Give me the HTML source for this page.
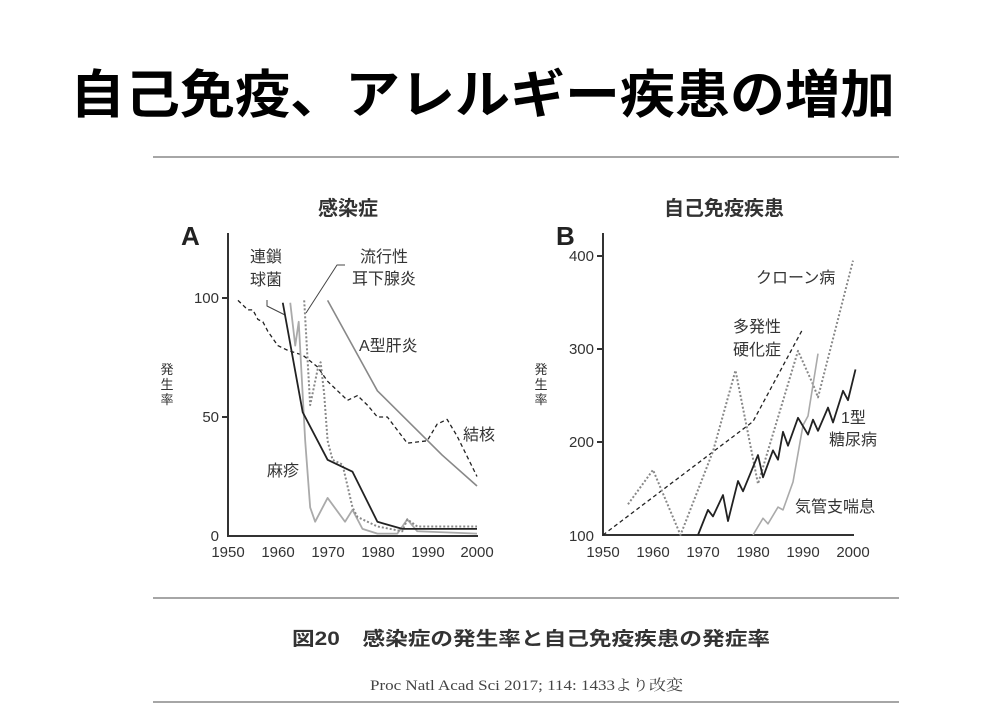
<!DOCTYPE html>
<html><head><meta charset="utf-8"><style>
body{margin:0;background:#fff;width:1000px;height:721px;overflow:hidden}
svg{display:block}
text{font-family:"Liberation Sans","Noto Sans CJK JP",sans-serif;fill:#333}
.l{fill:none;vector-effect:non-scaling-stroke;stroke-linejoin:round}
</style></head><body>
<svg width="1000" height="721" viewBox="0 0 1000 721">
<text x="70" y="113" font-size="52" font-weight="bold" style="fill:#000" textLength="825" lengthAdjust="spacingAndGlyphs">自己免疫、アレルギー疾患の増加</text>
<line x1="153" y1="157" x2="899" y2="157" stroke="#888" stroke-width="1.5"/>
<line x1="153" y1="598" x2="899" y2="598" stroke="#888" stroke-width="1.5"/>
<line x1="153" y1="702" x2="899" y2="702" stroke="#888" stroke-width="1.5"/>
<text x="348" y="215" font-size="20" font-weight="bold" text-anchor="middle">感染症</text>
<text x="724" y="215" font-size="20" font-weight="bold" text-anchor="middle">自己免疫疾患</text>

<!-- Chart A -->
<text x="181" y="245" font-size="26" font-weight="bold" style="fill:#222">A</text>
<g stroke="#333" stroke-width="2"><line x1="228" y1="233" x2="228" y2="537"/><line x1="227" y1="536" x2="478" y2="536"/>
<line x1="222" y1="298" x2="228" y2="298"/><line x1="222" y1="417" x2="228" y2="417"/></g>
<g font-size="15" text-anchor="end"><text x="219" y="303">100</text><text x="219" y="422">50</text><text x="219" y="541">0</text></g>
<g font-size="15" text-anchor="middle"><text x="228" y="557">1950</text><text x="278" y="557">1960</text><text x="328" y="557">1970</text><text x="378" y="557">1980</text><text x="428" y="557">1990</text><text x="477" y="557">2000</text></g>
<g font-size="13" text-anchor="middle"><text x="167" y="374">発</text><text x="167" y="389">生</text><text x="167" y="404">率</text></g>
<g font-size="16"><text x="250" y="262">連鎖</text><text x="250" y="285">球菌</text>
<text x="360" y="262">流行性</text><text x="352" y="284">耳下腺炎</text>
<text x="359" y="351">A型肝炎</text><text x="463" y="440">結核</text><text x="267" y="476">麻疹</text></g>
<polyline class="l" stroke="#444" stroke-width="1" points="267,300 267,306 285,315"/>
<polyline class="l" stroke="#444" stroke-width="1" points="306,313 337,265 345,265"/>
<g transform="translate(228,536) scale(4.98,-2.38)">
<polyline class="l" stroke="#888" stroke-width="1.6" points="20,99 30,61 43,34 50,21"/>
<polyline class="l" stroke="#222" stroke-width="1.3" stroke-dasharray="4,3" points="2,99 4,95 5,95 6,91 7,90 8,86 10,80 12,78 15,76 18,71 20,65 24,57 26,59 28,55 30,50 32,50 36,39 40,40 42,47 44,49 46,42 50,25"/>
<polyline class="l" stroke="#aaa" stroke-width="1.8" points="12.5,98 13.5,80 14.2,90 15.5,40 16.5,12 17.5,6 20,16 23.5,6 25,11 27,3 30,1 34,1 36,7 38,2 50,1"/>
<polyline class="l" stroke="#888" stroke-width="2" stroke-dasharray="2,2" points="15.3,99 16.5,55 17,60 18,70 18.6,73 19.3,60 20,40 21,32 23,30 25,12 26,8 30,4 35,2 36,7 38,4 50,4"/>
<polyline class="l" stroke="#222" stroke-width="1.8" points="11,98 15,52 20,32 25,27 30,6 35,3 50,3"/>
</g>

<!-- Chart B -->
<text x="556" y="245" font-size="26" font-weight="bold" style="fill:#222">B</text>
<g stroke="#333" stroke-width="2"><line x1="603" y1="233" x2="603" y2="536"/><line x1="602" y1="535" x2="854" y2="535"/>
<line x1="597" y1="256" x2="603" y2="256"/><line x1="597" y1="349" x2="603" y2="349"/><line x1="597" y1="442" x2="603" y2="442"/></g>
<g font-size="15" text-anchor="end"><text x="594" y="261">400</text><text x="594" y="354">300</text><text x="594" y="447">200</text><text x="594" y="541">100</text></g>
<g font-size="15" text-anchor="middle"><text x="603" y="557">1950</text><text x="653" y="557">1960</text><text x="703" y="557">1970</text><text x="753" y="557">1980</text><text x="803" y="557">1990</text><text x="853" y="557">2000</text></g>
<g font-size="13" text-anchor="middle"><text x="541" y="374">発</text><text x="541" y="389">生</text><text x="541" y="404">率</text></g>
<g font-size="16"><text x="756" y="283">クローン病</text>
<text x="733" y="332">多発性</text><text x="733" y="355">硬化症</text>
<text x="841" y="423">1型</text><text x="829" y="445">糖尿病</text><text x="795" y="512">気管支喘息</text></g>
<g transform="translate(603,535) scale(5,-0.93) translate(0,-100)">
<polyline class="l" stroke="#222" stroke-width="1.3" stroke-dasharray="4,3" points="0,100 30,222 40,322"/>
<polyline class="l" stroke="#888" stroke-width="2" stroke-dasharray="2,2" points="5,133 10,170 15.5,100 22,190 26.5,277 31,155 39,298 42,262 43,248 50,395"/>
<polyline class="l" stroke="#aaa" stroke-width="1.6" points="30,100 32,118 33,112 35,130 36,127 38,157 40,218 41,228 43,295"/>
<polyline class="l" stroke="#222" stroke-width="1.8" points="19,100 21,127 22,120 24,143 25,115 27,158 28,147 31,186 32,162 34,191 35,181 36,211 37,196 39,226 41,208 42,224 43,212 45,237 46,221 48,255 49,245 50.5,278"/>
</g>

<text x="292" y="645" font-size="19" font-weight="bold" style="fill:#333" textLength="478" lengthAdjust="spacingAndGlyphs">図20　感染症の発生率と自己免疫疾患の発症率</text>
<text x="370" y="690" font-size="15" style="font-family:'Liberation Serif','Noto Serif CJK SC',serif;fill:#444" textLength="313" lengthAdjust="spacingAndGlyphs">Proc Natl Acad Sci 2017; 114: 1433より改変</text>
</svg>
</body></html>
